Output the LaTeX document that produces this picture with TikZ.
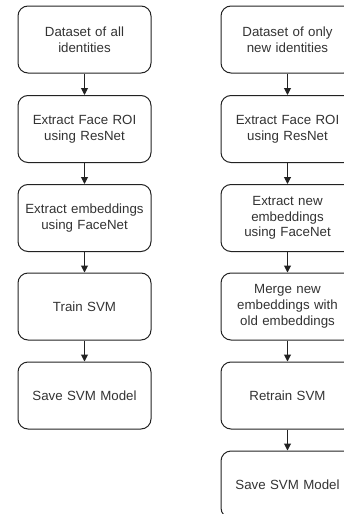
\documentclass[tikz,border=0pt]{standalone}
\usepackage{fontspec}
\setmainfont{Liberation Sans}
\usetikzlibrary{arrows.meta}
\definecolor{lineclr}{HTML}{222222}
\definecolor{txtclr}{HTML}{333333}
\tikzset{
  stepbox/.style={draw=lineclr, line width=1pt, rounded corners=10pt, fill=white,
    minimum width=133pt, minimum height=67pt, text width=125pt, align=center,
    inner sep=0pt, text=txtclr, font=\fontsize{13.3}{15.7}\selectfont},
  conn/.style={draw=lineclr, line width=1pt, -{Triangle[length=7pt,width=7pt]}}
}
\begin{document}
\begin{tikzpicture}[x=1pt,y=-1pt]
\useasboundingbox (0,0) rectangle (344,514);
\node[stepbox] (a1) at (84.5,39.5) {Dataset of all\\identities};
\node[stepbox] (a2) at (84.5,129) {Extract Face ROI\\using ResNet};
\node[stepbox] (a3) at (84.5,218) {Extract embeddings\\using FaceNet};
\node[stepbox] (a4) at (84.5,306.5) {Train SVM};
\node[stepbox] (a5) at (84.5,395.5) {Save SVM Model};
\node[stepbox] (b1) at (287.5,39.5) {Dataset of only\\new identities};
\node[stepbox] (b2) at (287.5,129) {Extract Face ROI\\using ResNet};
\node[stepbox] (b3) at (287.5,218) {Extract new\\embeddings\\using FaceNet};
\node[stepbox] (b4) at (287.5,306.5) {Merge new\\embeddings with\\old embeddings};
\node[stepbox] (b5) at (287.5,395.5) {Retrain SVM};
\node[stepbox] (b6) at (287.5,484.5) {Save SVM Model};
\draw[conn] (a1) -- (a2);
\draw[conn] (a2) -- (a3);
\draw[conn] (a3) -- (a4);
\draw[conn] (a4) -- (a5);
\draw[conn] (b1) -- (b2);
\draw[conn] (b2) -- (b3);
\draw[conn] (b3) -- (b4);
\draw[conn] (b4) -- (b5);
\draw[conn] (b5) -- (b6);
\end{tikzpicture}
\end{document}
